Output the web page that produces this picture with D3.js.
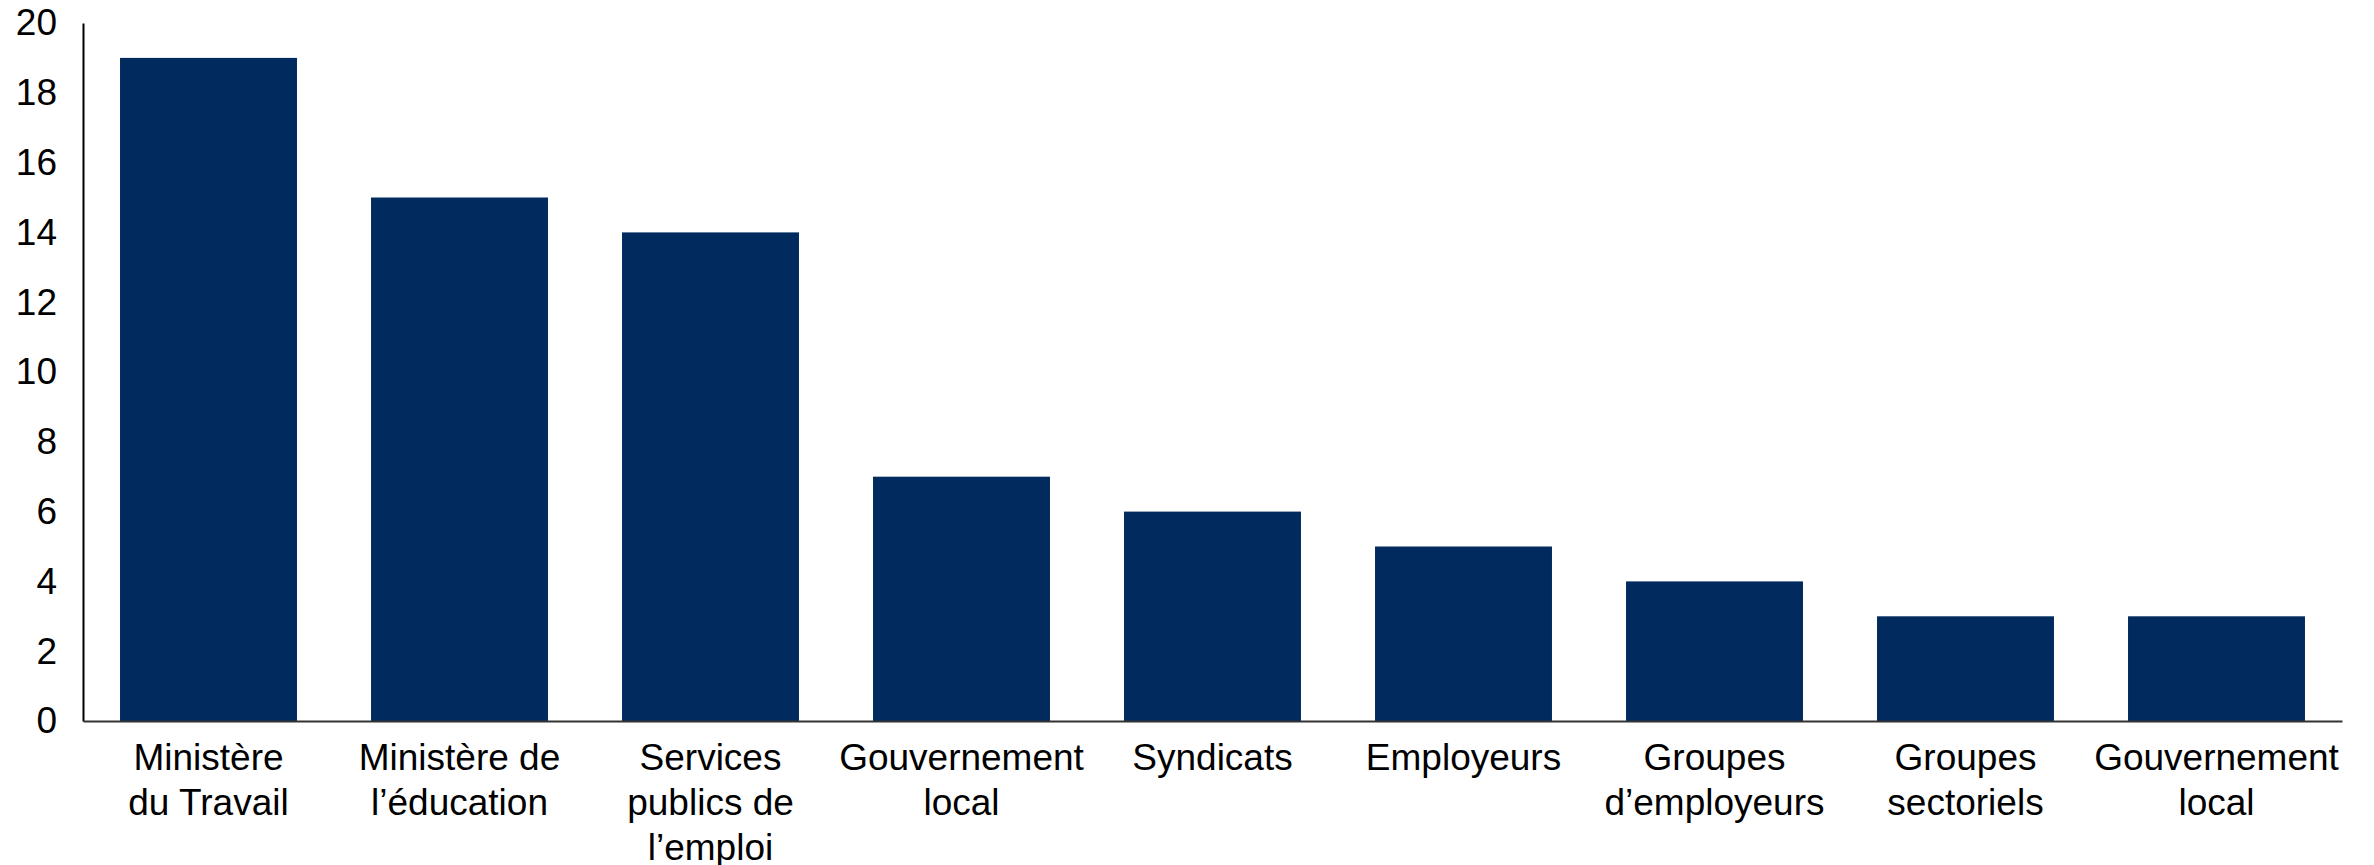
<!DOCTYPE html>
<html>
<head>
<meta charset="utf-8">
<script src="https://cdn.jsdelivr.net/npm/d3@7"></script>
<style>
  body { margin: 0; background: #fff; }
  svg { display: block; font-family: "Liberation Sans", Arial, sans-serif; }
</style>
</head>
<body>
<div id="chart"></div>
<script>
const categories = [
  ['Ministère', 'du Travail'],
  ['Ministère de', 'l’éducation'],
  ['Services', 'publics de', 'l’emploi'],
  ['Gouvernement', 'local'],
  ['Syndicats'],
  ['Employeurs'],
  ['Groupes', 'd’employeurs'],
  ['Groupes', 'sectoriels'],
  ['Gouvernement', 'local']
];
const values = [19, 15, 14, 7, 6, 5, 4, 3, 3];
const yTicks = [0, 2, 4, 6, 8, 10, 12, 14, 16, 18, 20];

const width = 2374, height = 865;
const margin = { top: 23, right: 32, bottom: 144, left: 83 };

const svg = d3.select('#chart').append('svg')
  .attr('width', width)
  .attr('height', height);

const x = d3.scaleBand()
  .domain(d3.range(values.length))
  .range([margin.left, width - margin.right])
  .paddingInner(0.295)
  .paddingOuter(0.1475);

const y = d3.scaleLinear()
  .domain([0, 20])
  .range([height - margin.bottom, margin.top]);

// bars
svg.append('g')
  .selectAll('rect')
  .data(values)
  .enter().append('rect')
    .attr('x', (d, i) => x(i))
    .attr('y', d => y(d))
    .attr('width', x.bandwidth())
    .attr('height', d => y(0) - y(d))
    .attr('fill', '#012a5e');

// y axis
const yAxis = svg.append('g')
  .attr('transform', `translate(${margin.left},0)`)
  .call(d3.axisLeft(y).tickValues(yTicks).tickSize(0).tickPadding(26));
yAxis.select('.domain').attr('stroke', '#000').attr('stroke-width', 2);
yAxis.selectAll('text')
  .attr('font-size', 37)
  .attr('fill', '#000')
  .attr('font-family', '"Liberation Sans", Arial, sans-serif');

// x axis
const xAxis = svg.append('g')
  .attr('transform', `translate(0,${y(0)})`)
  .call(d3.axisBottom(x).tickSize(0).tickFormat(''));
xAxis.select('.domain').attr('stroke', '#333').attr('stroke-width', 2);

xAxis.selectAll('.tick text').remove();
xAxis.selectAll('.tick')
  .append('text')
    .attr('fill', '#000')
    .attr('font-size', 37)
    .attr('text-anchor', 'middle')
    .attr('font-family', '"Liberation Sans", Arial, sans-serif')
  .selectAll('tspan')
  .data(i => categories[i])
  .enter().append('tspan')
    .attr('x', 0)
    .attr('y', (d, j) => 49 + j * 45)
    .text(d => d);
</script>
</body>
</html>
